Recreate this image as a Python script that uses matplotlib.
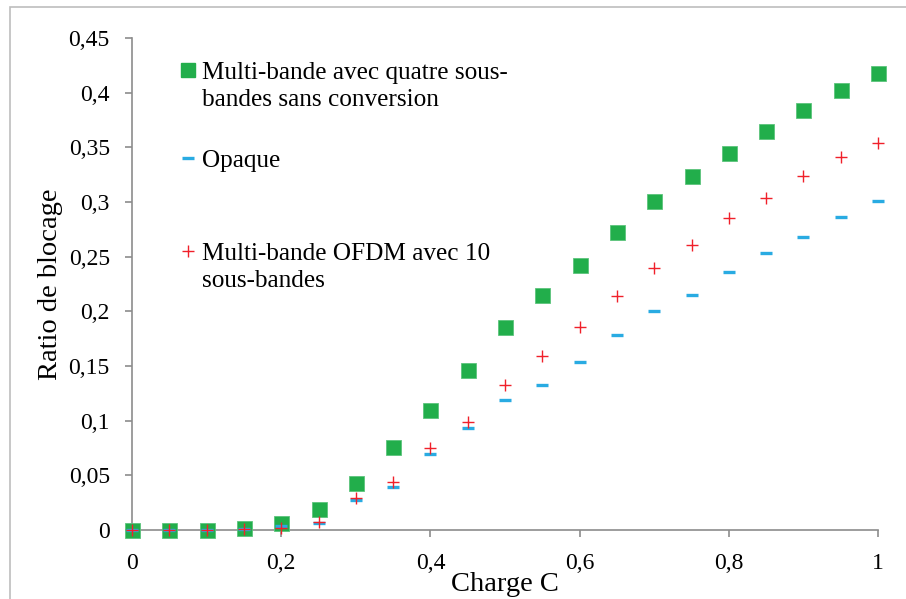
import matplotlib
matplotlib.use("Agg")
import matplotlib.pyplot as plt
from matplotlib.lines import Line2D
from matplotlib.patches import Rectangle

charge = [0.0, 0.05, 0.10, 0.15, 0.20, 0.25, 0.30, 0.35, 0.40, 0.45, 0.50,
          0.55, 0.60, 0.65, 0.70, 0.75, 0.80, 0.85, 0.90, 0.95, 1.0]
multibande_4 = [0.0, 0.0, 0.0, 0.0015, 0.006, 0.019, 0.043, 0.076, 0.110, 0.146, 0.186,
                0.215, 0.242, 0.273, 0.301, 0.324, 0.345, 0.365, 0.384, 0.402, 0.418]
opaque = [0.0, 0.0, 0.0, 0.0005, 0.004, 0.0067, 0.027, 0.039, 0.0695, 0.0936, 0.119,
          0.133, 0.1537, 0.178, 0.200, 0.215, 0.236, 0.2537, 0.268, 0.2866, 0.301]
ofdm_10 = [0.0, 0.0, 0.0, 0.0005, 0.002, 0.0076, 0.029, 0.044, 0.0747, 0.099, 0.1327,
           0.159, 0.1855, 0.214, 0.240, 0.261, 0.285, 0.304, 0.324, 0.3415, 0.354]

labels = ["Multi-bande avec quatre sous-\nbandes sans conversion",
          "Opaque",
          "Multi-bande OFDM avec 10\nsous-bandes"]
xticks = [0, 0.2, 0.4, 0.6, 0.8, 1.0]
xticklabels = ["0", "0,2", "0,4", "0,6", "0,8", "1"]
yticks = [0, 0.05, 0.1, 0.15, 0.2, 0.25, 0.3, 0.35, 0.4, 0.45]
yticklabels = ["0", "0,05", "0,1", "0,15", "0,2", "0,25", "0,3", "0,35", "0,4", "0,45"]

GREEN = "#22AE4B"
BLUE = "#29ABE2"
RED = "#F0202A"
SPINE = "#8C8C8C"

plt.rcParams["font.family"] = ["Liberation Serif", "DejaVu Serif"]

fig = plt.figure(figsize=(9.06, 5.99), dpi=100)
W, H = 906, 599
ax = fig.add_axes([132 / W, 1 - 530 / H, (878 - 132) / W, (530 - 38) / H])

ax.plot(charge, multibande_4, linestyle="none", marker="s", markersize=10.8,
        color=GREEN, markeredgecolor="#5CC47C", markeredgewidth=0.6, zorder=3,
        clip_on=False)
ax.plot(charge, opaque, linestyle="none", marker="_", markersize=8.8,
        markeredgewidth=2.4, color=BLUE, zorder=4, clip_on=False)
ax.plot(charge, ofdm_10, linestyle="none", marker="+", markersize=9,
        markeredgewidth=1.0, color=RED, zorder=5, clip_on=False)

ax.set_xlim(0, 1)
ax.set_ylim(0, 0.45)
ax.set_xticks(xticks)
ax.set_xticklabels(xticklabels)
ax.set_yticks(yticks)
ax.set_yticklabels(yticklabels)
for s in ["top", "right"]:
    ax.spines[s].set_visible(False)
for s in ["left", "bottom"]:
    ax.spines[s].set_color(SPINE)
    ax.spines[s].set_linewidth(1.2)
    ax.spines[s].set_zorder(2)
ax.tick_params(axis="both", direction="out", length=5, width=1.2, color=SPINE,
               labelsize=17, labelcolor="black")
ax.tick_params(axis="y", pad=11)
ax.tick_params(axis="x", pad=11.5)

ax.set_xlabel("Charge C", fontsize=20.5)
ax.xaxis.set_label_coords(0.5, -0.086)
ax.set_ylabel("Ratio de blocage", fontsize=20.5)
ax.yaxis.set_label_coords(-0.093, 0.5)

# legend drawn as marker + text, marker aligned with first text line
leg_markers = [
    dict(marker="s", markersize=9.6, color=GREEN),
    dict(marker="_", markersize=8.6, markeredgewidth=2.4, color=BLUE),
    dict(marker="+", markersize=8, markeredgewidth=1.0, color=RED),
]
marker_y = [70, 158, 251]
last_baseline = [106, 167, 287]
for mk, lab, my, ty in zip(leg_markers, labels, marker_y, last_baseline):
    fig.add_artist(Line2D([188 / W], [1 - my / H], linestyle="none",
                          transform=fig.transFigure, **mk))
    fig.text(202 / W, 1 - ty / H, lab, fontsize=18.2, ha="left", va="baseline",
             linespacing=1.32)

fig.patches.append(Rectangle((10 / W, -0.1), 1.2, 1.1 - 7 / H,
                             transform=fig.transFigure, fill=False,
                             edgecolor="#BDBDBD", linewidth=1.2))

fig.savefig("out.png", dpi=100)
